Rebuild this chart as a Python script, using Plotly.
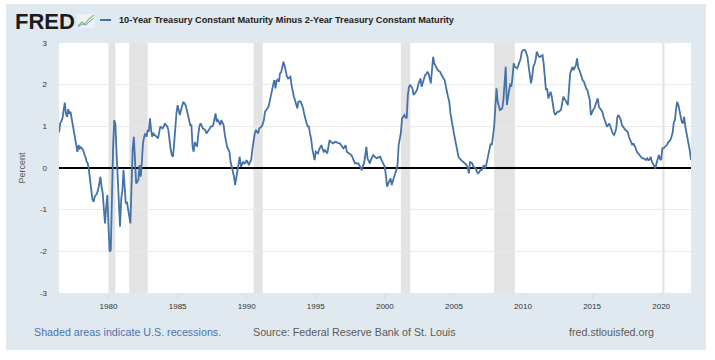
import pandas as pd
import plotly.graph_objects as go

# ---- data: monthly 10Y-2Y spread (percent), starting June 1976 ----
start_month = "1976-06-01"
spread_1976_1979 = [
    0.85, 1.07, 1.12, 1.19, 1.38, 1.57, 1.30,
    1.23, 1.41, 1.30, 1.35, 1.19, 1.05, 0.85, 0.67, 0.50, 0.39, 0.55, 0.47,
    0.50, 0.45, 0.43, 0.33, 0.27, 0.15, 0.11, -0.05, -0.25, -0.55, -0.75, -0.81,
    -0.69, -0.65, -0.61, -0.53, -0.40, -0.21, -0.45, -0.60, -1.00, -1.33, -0.93, -0.65,
]
spread_1980s = [
    -1.41, -2.01, -1.97, -0.60, 0.50, 1.15, 1.05, 0.35, -0.25, -0.85, -1.41, -0.75,
    -0.55, -0.05, -0.50, -0.85, -0.81, -0.95, -1.15, -1.33, -0.45, 0.45, 0.75, 0.11,
    -0.37, -0.33, -0.29, 0.07, -0.21, 0.15, 0.60, 0.75, 0.83, 0.75, 0.91, 0.87,
    1.19, 0.90, 0.75, 0.83, 0.80, 0.75, 0.72, 0.71, 0.85, 1.00, 0.97, 0.95,
    1.00, 1.07, 1.03, 1.00, 0.91, 0.60, 0.45, 0.31, 0.27, 0.59, 1.00, 1.31,
    1.51, 1.35, 1.27, 1.39, 1.50, 1.59, 1.55, 1.51, 1.39, 1.27, 1.15, 1.03,
    1.03, 0.50, 0.39, 0.62, 0.55, 0.53, 0.80, 1.00, 1.07, 1.00, 0.95, 0.93,
    0.91, 0.83, 0.88, 0.91, 0.95, 1.00, 1.00, 1.03, 1.20, 1.31, 1.11, 1.15,
    1.10, 1.03, 1.15, 1.10, 1.03, 0.80, 0.60, 0.51, 0.45, 0.39, 0.15, 0.05,
    -0.05, -0.21, -0.41, -0.25, -0.10, 0.07, 0.27, 0.03, 0.10, 0.15, 0.11, 0.13,
]
spread_1990s = [
    0.19, 0.10, 0.07, 0.15, 0.20, 0.45, 0.70, 0.82, 0.91, 0.87, 0.83, 0.95,
    0.97, 1.00, 1.05, 1.15, 1.35, 1.40, 1.43, 1.47, 1.60, 1.75, 1.91, 1.99,
    2.11, 1.91, 2.10, 2.12, 2.07, 2.27, 2.30, 2.40, 2.55, 2.45, 2.30, 2.19,
    2.15, 2.17, 2.19, 1.99, 1.80, 1.71, 1.63, 1.50, 1.43, 1.59, 1.60, 1.59,
    1.51, 1.43, 1.30, 1.15, 1.08, 1.00, 1.00, 0.83, 0.70, 0.47, 0.30, 0.19,
    0.39, 0.37, 0.35, 0.45, 0.50, 0.55, 0.45, 0.39, 0.43, 0.39, 0.35, 0.50,
    0.67, 0.63, 0.60, 0.59, 0.61, 0.63, 0.62, 0.60, 0.59, 0.59, 0.55, 0.50,
    0.47, 0.50, 0.55, 0.39, 0.37, 0.35, 0.33, 0.31, 0.25, 0.19, 0.11, 0.12,
    0.10, 0.11, 0.05, 0.00, -0.05, 0.05, 0.11, 0.30, 0.51, 0.23, 0.15, 0.11,
    0.20, 0.27, 0.31, 0.28, 0.25, 0.23, 0.25, 0.27, 0.27, 0.20, 0.15, 0.10,
]
spread_2000s = [
    0.03, -0.20, -0.45, -0.37, -0.30, -0.25, -0.41, -0.30, -0.21, -0.13, -0.05, 0.07,
    0.55, 0.70, 0.85, 1.19, 1.23, 1.27, 1.22, 1.19, 1.75, 1.95, 1.99, 1.95,
    1.91, 1.75, 1.80, 1.83, 1.87, 1.99, 2.05, 2.15, 1.95, 2.05, 2.11, 2.23,
    2.25, 2.31, 2.27, 2.10, 2.03, 2.35, 2.67, 2.51, 2.45, 2.43, 2.35, 2.33,
    2.31, 2.25, 2.19, 2.15, 2.11, 1.90, 1.83, 1.70, 1.59, 1.31, 1.10, 0.99,
    0.83, 0.67, 0.50, 0.39, 0.27, 0.23, 0.19, 0.17, 0.15, 0.13, 0.11, 0.07,
    0.00, -0.13, 0.15, 0.12, 0.11, 0.03, 0.00, -0.01, -0.09, -0.13, -0.10, -0.05,
    -0.05, 0.00, 0.07, -0.01, 0.05, 0.19, 0.35, 0.50, 0.59, 0.55, 0.75, 0.99,
    1.47, 1.91, 1.60, 1.47, 1.39, 1.41, 1.43, 1.63, 2.00, 2.43, 1.51, 1.75,
    1.87, 2.03, 1.95, 2.20, 2.51, 2.43, 2.41, 2.39, 2.47, 2.55, 2.63, 2.79,
]
spread_2010s = [
    2.83, 2.83, 2.83, 2.75, 2.67, 2.43, 2.20, 2.03, 2.19, 2.43, 2.50, 2.59,
    2.79, 2.72, 2.67, 2.67, 2.70, 2.71, 2.51, 2.10, 1.87, 1.91, 1.67, 1.75,
    1.83, 1.71, 1.50, 1.35, 1.27, 1.30, 1.35, 1.35, 1.38, 1.39, 1.55, 1.71,
    1.67, 1.63, 1.57, 1.51, 1.83, 2.27, 2.35, 2.43, 2.35, 2.40, 2.47, 2.63,
    2.40, 2.35, 2.27, 2.15, 2.10, 2.07, 1.95, 1.90, 1.87, 1.75, 1.63, 1.27,
    1.35, 1.40, 1.43, 1.51, 1.60, 1.67, 1.47, 1.43, 1.40, 1.35, 1.23, 1.15,
    1.05, 0.99, 1.03, 1.07, 0.99, 0.90, 0.83, 0.79, 0.85, 0.95, 1.23, 1.27,
    1.20, 1.15, 1.03, 0.98, 0.95, 0.91, 0.89, 0.87, 0.75, 0.67, 0.60, 0.55,
    0.59, 0.50, 0.47, 0.39, 0.35, 0.31, 0.27, 0.25, 0.23, 0.23, 0.21, 0.19,
    0.23, 0.19, 0.20, 0.27, 0.15, 0.08, 0.03, -0.01, 0.11, 0.23, 0.31, 0.22,
]
spread_2020s = [
    0.19, 0.47, 0.47, 0.50, 0.53, 0.55, 0.61, 0.65, 0.67, 0.75, 0.85, 1.10,
    1.15, 1.43, 1.59, 1.51, 1.35, 1.19, 1.10, 1.07, 1.23, 1.00, 0.85, 0.75,
    0.55, 0.40, 0.19,
]

recession_start = ["1980-01-01", "1981-07-01", "1990-07-01", "2001-03-01", "2007-12-01", "2020-02-01"]
recession_end = ["1980-07-01", "1982-11-01", "1991-03-01", "2001-11-01", "2009-06-01", "2020-04-01"]

year_ticks = [1980, 1985, 1990, 1995, 2000, 2005, 2010, 2015, 2020]
y_ticks = [-3, -2, -1, 0, 1, 2, 3]

title_text = "10-Year Treasury Constant Maturity Minus 2-Year Treasury Constant Maturity"

spread = spread_1976_1979 + spread_1980s + spread_1990s + spread_2000s + spread_2010s + spread_2020s
dates = pd.date_range(start=start_month, periods=len(spread), freq="MS")

# ---- layout helpers (pixel -> paper) ----
W, H = 715, 360
ML, MR, MT, MB = 59, 24, 43, 67
PW, PH = W - ML - MR, H - MT - MB


def px(x):
    return (x - ML) / PW


def py(y):
    return (H - MB - y) / PH


FONT = "Liberation Sans, Arial, Helvetica, sans-serif"
LINE_BLUE = "#4572a7"

fig = go.Figure()
fig.add_trace(go.Scatter(
    x=dates, y=spread, mode="lines",
    line=dict(color=LINE_BLUE, width=1.8),
    hoverinfo="skip", showlegend=False,
))

shapes = []
# panel background and white plot area
shapes.append(dict(type="rect", xref="paper", yref="paper", layer="below",
                   x0=px(6), x1=px(706), y0=py(350), y1=py(4),
                   fillcolor="#e1e9f0", line=dict(width=0)))
shapes.append(dict(type="rect", xref="paper", yref="paper", layer="below",
                   x0=0, x1=1, y0=0, y1=1,
                   fillcolor="white", line=dict(width=0)))
# recession bands
for s, e in zip(recession_start, recession_end):
    shapes.append(dict(type="rect", xref="x", yref="paper", layer="below",
                       x0=s, x1=e, y0=0, y1=1,
                       fillcolor="#e3e3e3", line=dict(width=0)))
# small FRED graph icon
shapes.append(dict(type="rect", xref="paper", yref="paper",
                   x0=px(77), x1=px(95), y0=py(28), y1=py(14),
                   fillcolor="#eef2f5", line=dict(width=0)))
shapes.append(dict(type="path", xref="paper", yref="paper",
                   path="M {} {} L {} {} L {} {} L {} {} L {} {}".format(
                       px(78), py(26), px(82), py(22), px(85), py(24), px(89), py(19), px(94), py(15)),
                   line=dict(color="#8bbf5a", width=1.2)))
shapes.append(dict(type="path", xref="paper", yref="paper",
                   path="M {} {} L {} {} L {} {} L {} {} L {} {}".format(
                       px(78), py(27), px(82), py(24), px(86), py(25), px(90), py(21), px(94), py(18)),
                   line=dict(color="#6f9fd0", width=1.0)))
# legend dash
shapes.append(dict(type="line", xref="paper", yref="paper",
                   x0=px(100), x1=px(111), y0=py(20), y1=py(20),
                   line=dict(color=LINE_BLUE, width=2)))

annotations = [
    dict(text="FRED", x=px(13), y=py(21.5), xanchor="left", yanchor="middle",
         font=dict(family=FONT, size=22, color="#1b1b1b", weight="bold")),
    dict(text=title_text, x=px(117), y=py(20.5), xanchor="left", yanchor="middle",
         font=dict(family=FONT, size=9.2, color="#222222", weight="bold")),
    dict(text="Percent", x=px(21.5), y=py(168), xanchor="center", yanchor="middle",
         textangle=-90, font=dict(family=FONT, size=9, color="#555555")),
    dict(text="Shaded areas indicate U.S. recessions.", x=px(32), y=py(332),
         xanchor="left", yanchor="middle",
         font=dict(family=FONT, size=10.7, color="#4a72b0")),
    dict(text="Source: Federal Reserve Bank of St. Louis", x=px(251), y=py(332),
         xanchor="left", yanchor="middle",
         font=dict(family=FONT, size=10.7, color="#595959")),
    dict(text="fred.stlouisfed.org", x=px(656), y=py(332),
         xanchor="right", yanchor="middle",
         font=dict(family=FONT, size=10.7, color="#595959")),
]
for a in annotations:
    a.update(xref="paper", yref="paper", showarrow=False)

fig.update_layout(
    width=W, height=H,
    margin=dict(l=ML, r=MR, t=MT, b=MB, pad=0),
    paper_bgcolor="white", plot_bgcolor="white",
    font=dict(family=FONT, color="#333333"),
    shapes=shapes, annotations=annotations,
    showlegend=False,
)
fig.update_xaxes(
    type="date", range=[dates[0], dates[-1]],
    tickvals=[pd.Timestamp(year=y, month=1, day=1) for y in year_ticks],
    ticktext=[str(y) for y in year_ticks],
    showgrid=False, zeroline=False, showline=False,
    ticks="outside", ticklen=5, tickcolor="#d4dbe3", tickwidth=1,
    tickfont=dict(family=FONT, size=8, color="#333333"),
)
fig.update_yaxes(
    range=[-3, 3], tickvals=y_ticks, ticktext=[str(v) for v in y_ticks],
    showgrid=True, gridcolor="#e9e9e9", gridwidth=1,
    zeroline=True, zerolinecolor="#000000", zerolinewidth=2,
    showline=False, ticks="", ticklabelstandoff=11,
    tickfont=dict(family=FONT, size=8, color="#333333"),
)

fig.write_html(
    "out.html",
    config={"displayModeBar": False, "staticPlot": True},
    post_script="document.body.style.margin='0';document.body.style.overflow='hidden';",
)
